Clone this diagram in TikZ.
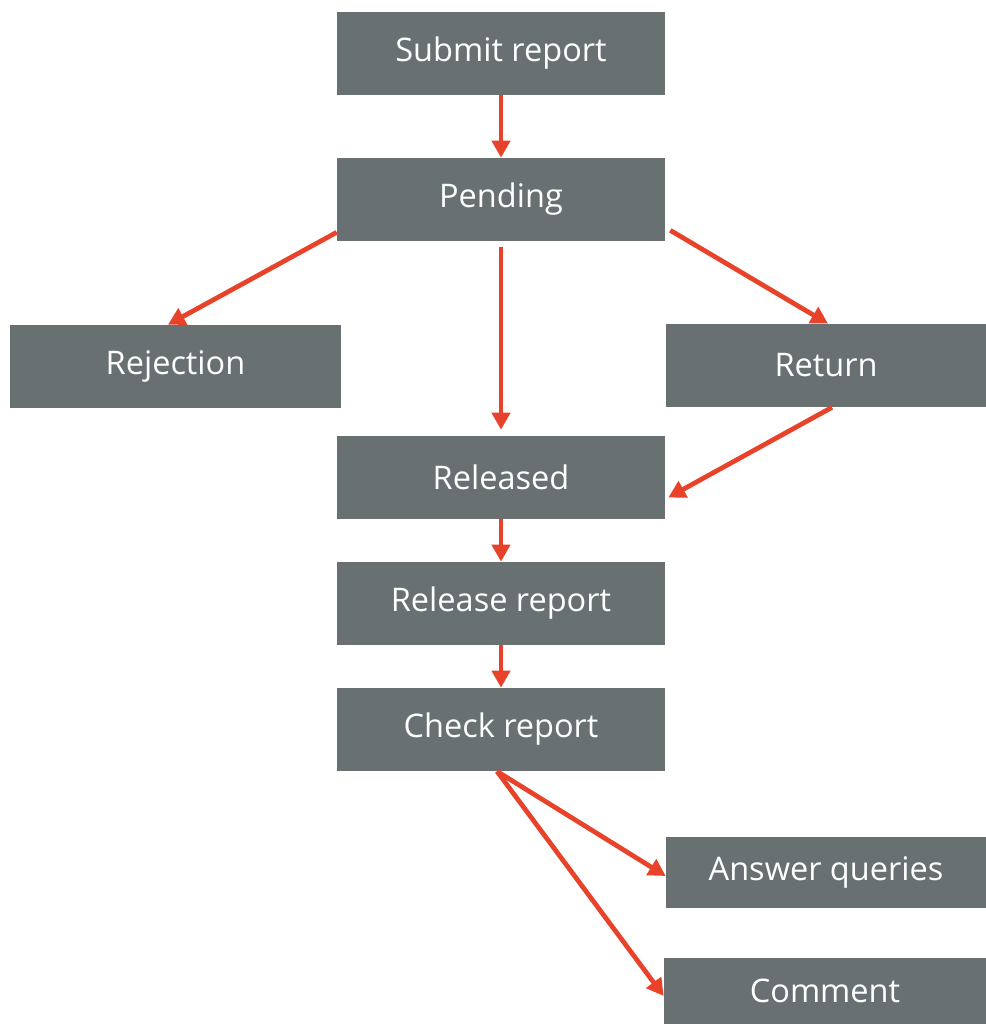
\documentclass[tikz,border=0pt]{standalone}
\usepackage{fontspec}
\setmainfont{Open Sans}
\usepackage{tikz}
\usetikzlibrary{arrows.meta}
\definecolor{boxgray}{HTML}{687072}
\definecolor{flowred}{HTML}{E8432A}

\begin{document}
\begin{tikzpicture}[x=0.02cm, y=-0.02cm]

  % Define box and arrow styles
  \tikzset{stepnode/.style={fill=boxgray, text=white, rectangle, minimum width=6.56cm, minimum height=1.66cm, inner sep=0pt, font=\fontsize{18.5}{22}\selectfont},
    flow/.style={draw=flowred, line width=2.7pt, -{Triangle[length=0.34cm,width=0.36cm]}}}

  \useasboundingbox (0,0) rectangle (986,1024);

  % Nodes
  \node[stepnode] (submit) at (501,53.5) {Submit report};
  \node[stepnode] (pending) at (501,199.5) {Pending};
  \node[stepnode, minimum width=6.62cm] (rejection) at (175.5,366.5) {Rejection};
  \node[stepnode, minimum width=6.4cm] (ret) at (826,365.5) {Return};
  \node[stepnode] (released) at (501,477.5) {Released};
  \node[stepnode] (relreport) at (501,603.5) {Release report};
  \node[stepnode] (check) at (501,729.5) {Check report};
  \node[stepnode, minimum width=6.4cm, minimum height=1.42cm] (answer) at (826,872.5) {Answer queries};
  \node[stepnode, minimum width=6.44cm, minimum height=1.32cm] (comment) at (825,991) {Comment};

  % Arrows
  \draw[flow] (submit) -- (pending);
  \draw[flow] ([yshift=0.18cm]pending.south west) -- ([xshift=-0.15cm]rejection.north);
  \draw[flow, shorten <=0.12cm, shorten >=0.12cm] (pending) -- (released);
  \draw[flow] ([xshift=0.1cm,yshift=0.22cm]pending.south east) -- ([xshift=0.04cm]ret.north);
  \draw[flow] ([xshift=0.12cm]ret.south) -- ([xshift=0.06cm,yshift=-0.4cm]released.east);
  \draw[flow] (released) -- (relreport);
  \draw[flow] (relreport) -- (check);
  \draw[flow] ([xshift=-0.08cm]check.south) -- ([yshift=-0.07cm]answer.west);
  \draw[flow] ([xshift=-0.08cm]check.south) -- ([yshift=-0.1cm]comment.west);

\end{tikzpicture}
\end{document}
